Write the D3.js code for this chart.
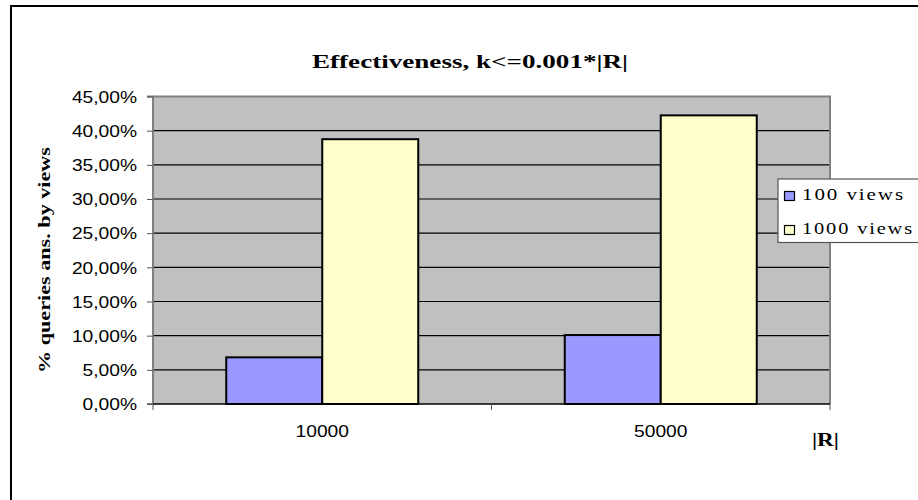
<!DOCTYPE html>
<html><head><meta charset="utf-8">
<script src="https://cdn.jsdelivr.net/npm/d3@7"></script>
<style>body{margin:0;background:#fff}svg{display:block}</style>
</head><body>
<svg id="c" width="918" height="500"></svg>
<script>
const categories = ["10000", "50000"];
const seriesNames = ["100 views", "1000 views"];
const views100 = [0.0683, 0.1009];
const views1000 = [0.3875, 0.4224];
const yTicks = [0, 0.05, 0.10, 0.15, 0.20, 0.25, 0.30, 0.35, 0.40, 0.45];
const colors = ["#9999ff", "#ffffcc"];

const svg = d3.select("#c");
const L = 153, R = 830, T = 96.5, B = 404;
const stretch = 1.2;

function widen(sel, f) {
  sel.each(function() {
    const w = this.getComputedTextLength();
    d3.select(this).attr("textLength", w * f).attr("lengthAdjust", "spacingAndGlyphs");
  });
}

// outer frame
svg.append("path").attr("d", "M11,500 L11,6 L918,6").attr("fill","none").attr("stroke","#000").attr("stroke-width",2);

const x = d3.scaleBand().domain(categories).range([L, R]).padding(0);
const xs = d3.scaleBand().domain(seriesNames).range([0, x.bandwidth()]).paddingInner(0).paddingOuter(0.763);
const y = d3.scaleLinear().domain([0, 0.45]).range([B, T]);

// plot bg
svg.append("rect").attr("x", L).attr("y", T).attr("width", R-L).attr("height", B-T).attr("fill", "#c0c0c0");

// gridlines
svg.append("g").selectAll("line").data(yTicks.slice(1, -1)).join("line")
  .attr("x1", L).attr("x2", R).attr("y1", d => y(d)).attr("y2", d => y(d))
  .attr("stroke", "#000").attr("stroke-width", 1.2);

// plot border top/right
svg.append("path").attr("d", `M${L},${T} L${R},${T} L${R},${B}`).attr("fill","none").attr("stroke","#808080").attr("stroke-width",2);

// bars
const data = categories.map((c, i) => ({c, vals: [views100[i], views1000[i]]}));
const g = svg.append("g");
data.forEach(d => {
  d.vals.forEach((v, j) => {
    g.append("rect")
      .attr("x", x(d.c) + xs(seriesNames[j]))
      .attr("y", y(v))
      .attr("width", xs.bandwidth())
      .attr("height", y(0) - y(v))
      .attr("fill", colors[j]).attr("stroke", "#000").attr("stroke-width", 2);
  });
});

// y axis
const yAxis = d3.axisLeft(y).tickValues(yTicks).tickSize(6).tickPadding(10)
  .tickFormat(d => d3.format(".2f")(d*100).replace(".", ",") + "%");
const ya = svg.append("g").attr("transform", `translate(${L},0)`).call(yAxis);
ya.select(".domain").attr("stroke", "#808080").attr("stroke-width", 2).attr("d", `M-6,${T}H0V${B}H-6`);
ya.selectAll(".tick line").attr("stroke", "#555");
ya.selectAll("text").attr("font-family", "Liberation Sans, Arial, sans-serif").attr("font-size", 16).attr("fill", "#000").attr("dy", "0.36em");
ya.attr("font-family", null).attr("font-size", null);
widen(ya.selectAll("text"), stretch);

// x axis
svg.append("line").attr("x1", L).attr("x2", R).attr("y1", B).attr("y2", B).attr("stroke", "#000").attr("stroke-width", 1.5);
const xTickPos = [L, L + x.bandwidth(), R];
svg.append("g").selectAll("line").data(xTickPos).join("line")
  .attr("x1", d => d).attr("x2", d => d).attr("y1", B).attr("y2", B + 6)
  .attr("stroke", "#555").attr("stroke-width", 1);
const xl = svg.append("g").selectAll("text").data(categories).join("text")
  .attr("x", d => x(d) + x.bandwidth()/2).attr("y", 437)
  .attr("text-anchor", "middle")
  .attr("font-family", "Liberation Sans, Arial, sans-serif").attr("font-size", 16)
  .text(d => d);
widen(xl, stretch);

// title
svg.append("text").attr("x", 470).attr("y", 68).attr("text-anchor", "middle")
  .attr("font-family", "Liberation Serif, serif").attr("font-weight", "bold").attr("font-size", 19)
  .attr("textLength", 316).attr("lengthAdjust", "spacingAndGlyphs")
  .text("Effectiveness, k<=0.001*|R|");

// y label
svg.append("text").attr("transform", "translate(50,260) rotate(-90)").attr("text-anchor", "middle")
  .attr("font-family", "Liberation Serif, serif").attr("font-weight", "bold").attr("font-size", 16)
  .attr("textLength", 226).attr("lengthAdjust", "spacingAndGlyphs")
  .text("% queries ans. by views");

// x label
svg.append("text").attr("x", 825.5).attr("y", 446).attr("text-anchor", "middle")
  .attr("font-family", "Liberation Serif, serif").attr("font-weight", "bold").attr("font-size", 18)
  .attr("textLength", 27).attr("lengthAdjust", "spacingAndGlyphs")
  .text("|R|");

// legend
const lg = svg.append("g");
lg.append("rect").attr("x", 778).attr("y", 179).attr("width", 150).attr("height", 63.5)
  .attr("fill", "#fff").attr("stroke", "#555").attr("stroke-width", 1.2);
const legendLens = [103, 112];
seriesNames.forEach((s, i) => {
  const base = 200 + i * 34;
  lg.append("rect").attr("x", 784.5).attr("y", base - 8.5).attr("width", 10).attr("height", 9)
    .attr("fill", colors[i]).attr("stroke", "#000").attr("stroke-width", 1.2);
  lg.append("text").attr("x", 802).attr("y", base)
    .attr("font-family", "Liberation Serif, serif").attr("font-size", 16.5)
    .attr("letter-spacing", 1.5)
    .attr("textLength", legendLens[i]).attr("lengthAdjust", "spacingAndGlyphs")
    .text(s);
});
</script>
</body></html>
